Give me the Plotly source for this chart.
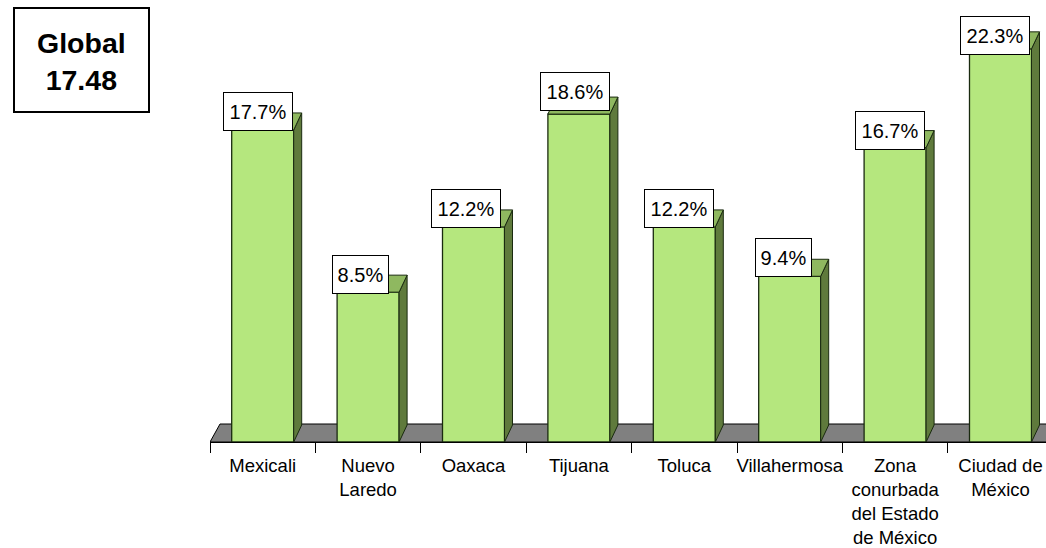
import plotly.graph_objects as go

cities = ["Mexicali", "Nuevo<br>Laredo", "Oaxaca", "Tijuana", "Toluca", "Villahermosa",
          "Zona<br>conurbada<br>del Estado<br>de México", "Ciudad de<br>México"]
values = [17.7, 8.5, 12.2, 18.6, 12.2, 9.4, 16.7, 22.3]
value_labels = ["17.7%", "8.5%", "12.2%", "18.6%", "12.2%", "9.4%", "16.7%", "22.3%"]
global_text = "<b>Global<br>17.48</b>"

W, H = 1046, 548
L, B = 210, 442
PX_X = 105.4
PX_Y = 17.63
xmin = -0.5
xmax = xmin + (W - L) / PX_X
ymax = B / PX_Y
bw = 62 / PX_X
dx = 8 / PX_X
dy = 17 / PX_Y
fdx = 10 / PX_X
fdy = 18 / PX_Y

FRONT = "#B5E77E"
TOP = "#8FB860"
SIDE = "#5F7A3C"
LINE = "#1A2A10"
xs = list(range(len(values)))

fig = go.Figure()
fig.add_trace(go.Bar(x=xs, y=values, width=bw, marker=dict(color=FRONT, line=dict(color=LINE, width=1.3)),
                     hoverinfo="skip"))
for i, v in zip(xs, values):
    r = i + bw / 2
    l = i - bw / 2
    fig.add_trace(go.Scatter(x=[r, r + dx, r + dx, r, r], y=[0, dy, v + dy, v, 0], mode="lines", fill="toself",
                             fillcolor=SIDE, line=dict(color=LINE, width=1), hoverinfo="skip"))
    fig.add_trace(go.Scatter(x=[l, l + dx, r + dx, r, l], y=[v, v + dy, v + dy, v, v], mode="lines", fill="toself",
                             fillcolor=TOP, line=dict(color=LINE, width=1), hoverinfo="skip"))

floor_path = f"M {xmin},0 L {xmin + fdx},{fdy} L {xmax + 1},{fdy} L {xmax + 1},0 Z"
fig.add_shape(type="path", path=floor_path, xref="x", yref="y", layer="below",
              fillcolor="#808080", line=dict(color="#000000", width=1))

# The reference's value boxes were hand-placed, so each gets its own small nudge in pixels.
nudge_x = [-5, -8, -7.5, -3.5, -5, -6, -5.5, -5.5]
nudge_y = [-1, -2, -1, 3, -1, -1, -2, -6]
for i, v, t, nx, ny in zip(xs, values, value_labels, nudge_x, nudge_y):
    fig.add_annotation(x=i, y=v, xref="x", yref="y", text=t, showarrow=False, xanchor="center", yanchor="bottom",
                       xshift=nx, yshift=ny, width=66 if len(t) > 4 else 53, height=35, borderpad=1,
                       align="center", valign="middle", bgcolor="#FFFFFF", bordercolor="#000000", borderwidth=1,
                       font=dict(family="Liberation Sans", size=20, color="#000000"))

fig.add_shape(type="rect", xref="paper", yref="paper", layer="above",
              x0=(14 - L) / (W - L), x1=(149 - L) / (W - L), y0=1 - 112 / B, y1=1 - 8 / B,
              fillcolor="#FFFFFF", line=dict(color="#000000", width=2))
fig.add_annotation(xref="paper", yref="paper", x=(81 - L) / (W - L), y=1 - 62 / B, text=global_text,
                   showarrow=False, xanchor="center", yanchor="middle",
                   font=dict(family="Liberation Sans", size=28.5, color="#000000"))

fig.update_layout(
    width=W, height=H, margin=dict(l=L, r=0, t=0, b=H - B), showlegend=False,
    plot_bgcolor="#FFFFFF", paper_bgcolor="#FFFFFF",
    font=dict(family="Liberation Sans", color="#000000"),
    xaxis=dict(type="linear", range=[xmin, xmax], tickmode="array", tickvals=xs, ticktext=cities,
               ticks="", showgrid=False, zeroline=False, showline=True, linecolor="#000000", linewidth=1,
               tickfont=dict(family="Liberation Sans", size=18.5, color="#000000"), tickangle=0,
               ticklabelstandoff=7,
               minor=dict(tickmode="array", tickvals=[i - 0.5 for i in range(len(values) + 1)], ticks="outside",
                          ticklen=10, tickcolor="#000000", tickwidth=1, showgrid=False)),
    yaxis=dict(range=[0, ymax], visible=False, showgrid=False, zeroline=False),
)
fig.write_html("out.html", config={"displayModeBar": False},
               post_script="document.body.style.margin='0';document.documentElement.style.overflow='hidden';")
